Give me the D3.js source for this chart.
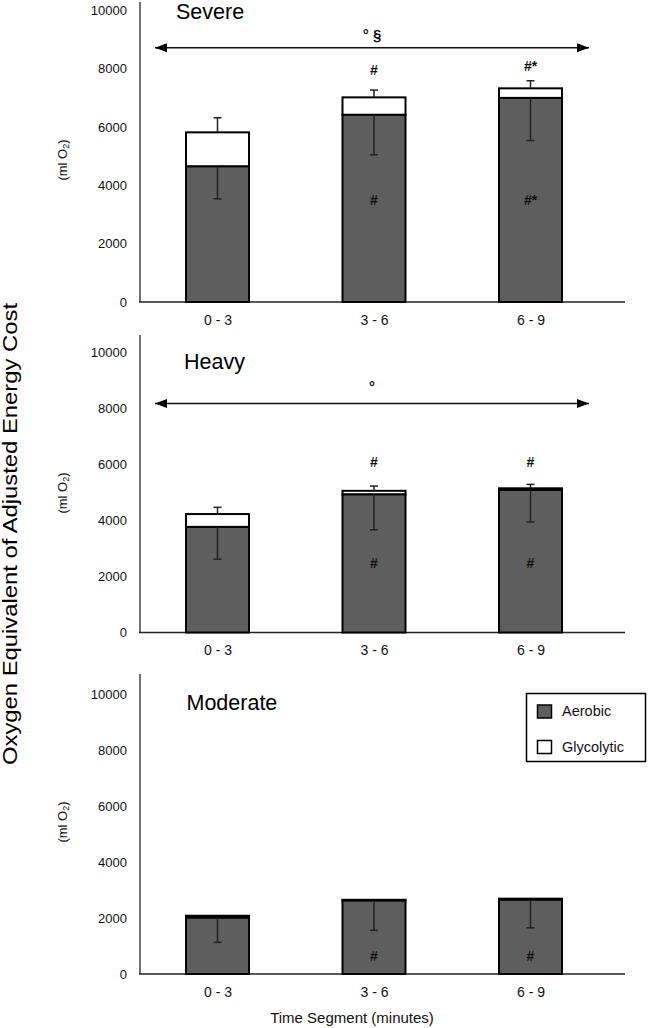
<!DOCTYPE html>
<html>
<head>
<meta charset="utf-8">
<script src="https://cdn.jsdelivr.net/npm/d3@7"></script>
<style>
  html, body { margin: 0; padding: 0; background: #fff; }
  svg { display: block; font-family: "Liberation Sans", Arial, sans-serif; }
</style>
</head>
<body>
<svg id="chart" width="649" height="1028"></svg>
<script>
// ---------------- data ----------------
const categories = ["0 - 3", "3 - 6", "6 - 9"];
const yTicks = [0, 2000, 4000, 6000, 8000, 10000];

const panelNames = ["Severe", "Heavy", "Moderate"];

const severeAerobic     = [4650, 6420, 7000];
const severeGlycolytic  = [1170, 600, 330];
const severeTotalSD     = [500, 250, 260];
const severeAerobicSD   = [1110, 1370, 1460];

const heavyAerobic      = [3770, 4930, 5090];
const heavyGlycolytic   = [460, 130, 60];
const heavyTotalSD      = [240, 170, 140];
const heavyAerobicSD    = [1150, 1260, 1140];

const moderateAerobic    = [2010, 2620, 2650];
const moderateGlycolytic = [70, 30, 40];
const moderateTotalSD    = [0, 0, 0];
const moderateAerobicSD  = [880, 1060, 1000];

// significance marks: [category, value position, text]
const severeMarksAbove  = [["3 - 6", 7780, "#"], ["6 - 9", 7920, "#*"]];
const severeMarksInside = [["3 - 6", 3330, "#"], ["6 - 9", 3330, "#*"]];
const heavyMarksAbove   = [["3 - 6", 5900, "#"], ["6 - 9", 5900, "#"]];
const heavyMarksInside  = [["3 - 6", 2300, "#"], ["6 - 9", 2300, "#"]];
const moderateMarksInside = [["3 - 6", 470, "#"], ["6 - 9", 470, "#"]];

// trend arrows: [value, label, label value]
const severeArrow = [8720, "° §", 8990];
const heavyArrow  = [8175, "°", 8600];

const legendLabels = ["Aerobic", "Glycolytic"];

// ---------------- layout ----------------
const svg = d3.select("#chart");
const AER = "#5e5e5e";
const axisX = 140, axisRight = 625;
const barW = 63;

const x = d3.scalePoint().domain(categories).range([217.5, 530.5]);

const panels = [
  { name: panelNames[0], aer: severeAerobic, gly: severeGlycolytic, tsd: severeTotalSD, asd: severeAerobicSD,
    base: 302, top: 10.5, axisTop: 2, titleY: 18.5, titleX: 176, above: severeMarksAbove, inside: severeMarksInside,
    arrow: severeArrow, mlY: 160 },
  { name: panelNames[1], aer: heavyAerobic, gly: heavyGlycolytic, tsd: heavyTotalSD, asd: heavyAerobicSD,
    base: 632.5, top: 352.5, axisTop: 335, titleY: 369, titleX: 184, above: heavyMarksAbove, inside: heavyMarksInside,
    arrow: heavyArrow, mlY: 493 },
  { name: panelNames[2], aer: moderateAerobic, gly: moderateGlycolytic, tsd: moderateTotalSD, asd: moderateAerobicSD,
    base: 974, top: 694, axisTop: 674, titleY: 710, titleX: 186.5, above: [], inside: moderateMarksInside,
    arrow: null, mlY: 822 }
];

// arrow marker
const defs = svg.append("defs");
defs.append("marker").attr("id", "ah").attr("viewBox", "0 0 12 10")
  .attr("refX", 12).attr("refY", 5).attr("markerWidth", 12).attr("markerHeight", 10)
  .attr("markerUnits", "userSpaceOnUse").attr("orient", "auto-start-reverse")
  .append("path").attr("d", "M0,0.5 L12,5 L0,9.5 Z").attr("fill", "#000");

panels.forEach(p => {
  const g = svg.append("g");
  const y = d3.scaleLinear().domain([0, 10000]).range([p.base, p.top]);

  // y tick labels
  const ya = g.append("g").attr("transform", `translate(${axisX},0)`)
    .call(d3.axisLeft(y).tickValues(yTicks).tickFormat(d3.format("d")).tickSize(0).tickPadding(13));
  ya.select(".domain").remove();
  ya.selectAll("text").attr("font-size", 13).attr("font-family", "Liberation Sans, Arial, sans-serif").attr("fill", "#111");

  // axis lines
  g.append("line").attr("x1", axisX).attr("x2", axisX).attr("y1", p.axisTop).attr("y2", p.base)
    .attr("stroke", "#222").attr("stroke-width", 1.3);
  g.append("line").attr("x1", axisX - 1).attr("x2", axisRight).attr("y1", p.base).attr("y2", p.base)
    .attr("stroke", "#222").attr("stroke-width", 1.3);

  // x labels
  const xa = g.append("g").attr("transform", `translate(0,${p.base})`)
    .call(d3.axisBottom(x).tickSize(0).tickPadding(13));
  xa.select(".domain").remove();
  xa.selectAll("text").attr("font-size", 14).attr("font-family", "Liberation Sans, Arial, sans-serif").attr("fill", "#111");

  // bars
  categories.forEach((c, i) => {
    const cx = x(c);
    const aTop = y(p.aer[i]);
    const tot = p.aer[i] + p.gly[i];
    const tTop = y(tot);
    g.append("rect").attr("x", cx - barW / 2).attr("y", tTop).attr("width", barW).attr("height", aTop - tTop)
      .attr("fill", "#fff").attr("stroke", "#000").attr("stroke-width", 2);
    g.append("rect").attr("x", cx - barW / 2).attr("y", aTop).attr("width", barW).attr("height", p.base - aTop)
      .attr("fill", AER).attr("stroke", "#000").attr("stroke-width", 2);
    if (p.tsd[i] > 0) {
      const ey = y(tot + p.tsd[i]);
      g.append("line").attr("x1", cx).attr("x2", cx).attr("y1", tTop).attr("y2", ey).attr("stroke", "#222").attr("stroke-width", 1.5);
      g.append("line").attr("x1", cx - 4).attr("x2", cx + 4).attr("y1", ey).attr("y2", ey).attr("stroke", "#222").attr("stroke-width", 1.5);
    }
    const eb = y(p.aer[i] - p.asd[i]);
    g.append("line").attr("x1", cx).attr("x2", cx).attr("y1", aTop).attr("y2", eb).attr("stroke", "#222").attr("stroke-width", 1.5);
    g.append("line").attr("x1", cx - 4).attr("x2", cx + 4).attr("y1", eb).attr("y2", eb).attr("stroke", "#222").attr("stroke-width", 1.5);
  });

  // significance marks
  p.above.concat(p.inside).forEach(m => {
    g.append("text").attr("x", x(m[0])).attr("y", y(m[1])).attr("text-anchor", "middle")
      .attr("font-size", 14).attr("font-weight", "bold").attr("fill", "#111").text(m[2]);
  });

  // arrow
  if (p.arrow) {
    const ay = y(p.arrow[0]);
    g.append("line").attr("x1", 155).attr("x2", 589).attr("y1", ay).attr("y2", ay)
      .attr("stroke", "#111").attr("stroke-width", 1.5)
      .attr("marker-start", "url(#ah)").attr("marker-end", "url(#ah)");
    g.append("text").attr("x", 372).attr("y", y(p.arrow[2])).attr("text-anchor", "middle")
      .attr("font-size", 15).attr("font-weight", "bold").attr("fill", "#111").text(p.arrow[1]);
  }

  // panel title
  g.append("text").attr("x", p.titleX).attr("y", p.titleY).attr("font-size", 21.5).attr("fill", "#000").text(p.name);

  // (ml O2)
  const ml = g.append("text").attr("transform", `translate(67,${p.mlY}) rotate(-90)`)
    .attr("text-anchor", "middle").attr("font-size", 13).attr("fill", "#111");
  ml.append("tspan").text("(ml O");
  ml.append("tspan").attr("font-size", 9).attr("dy", 2).text("2");
  ml.append("tspan").attr("dy", -2).text(")");
});

// main y title
svg.append("text").attr("transform", "translate(17,534) rotate(-90)")
  .attr("text-anchor", "middle").attr("font-size", 19.5).attr("fill", "#000")
  .attr("textLength", 462).attr("lengthAdjust", "spacingAndGlyphs")
  .text("Oxygen Equivalent of Adjusted Energy Cost");

// x title
svg.append("text").attr("x", 352).attr("y", 1023).attr("text-anchor", "middle")
  .attr("font-size", 15).attr("fill", "#111").text("Time Segment (minutes)");

// legend
const lg = svg.append("g");
lg.append("rect").attr("x", 526.5).attr("y", 693.5).attr("width", 119).attr("height", 68)
  .attr("fill", "#fff").attr("stroke", "#000").attr("stroke-width", 1.5);
const legendFills = [AER, "#fff"];
legendLabels.forEach((l, i) => {
  const yy = 705 + i * 35.5;
  lg.append("rect").attr("x", 537.5).attr("y", yy).attr("width", 14).attr("height", 13)
    .attr("fill", legendFills[i]).attr("stroke", "#000").attr("stroke-width", 1.5);
  lg.append("text").attr("x", 562).attr("y", yy + 11).attr("font-size", 14.5).attr("fill", "#111").text(l);
});
</script>
</body>
</html>
